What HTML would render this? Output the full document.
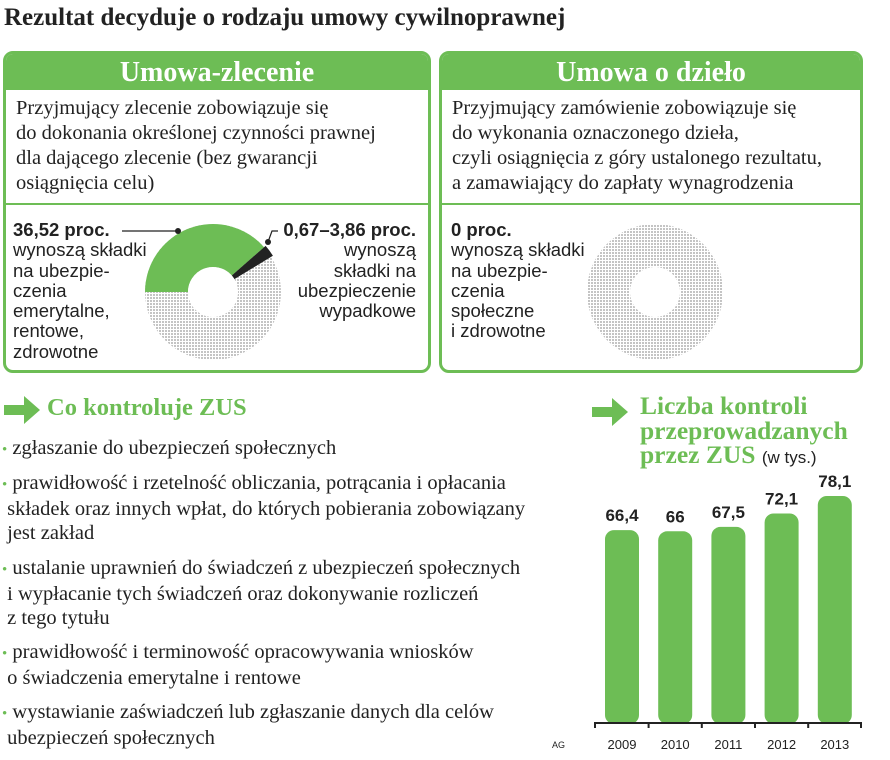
<!DOCTYPE html>
<html><head><meta charset="utf-8">
<style>
body{margin:0;width:890px;height:760px;background:#fff;position:relative;overflow:hidden;font-family:"Liberation Serif",serif;color:#222}
.abs{position:absolute}
.title{left:4px;top:4px;font-size:25px;font-weight:bold;color:#222}
.box{position:absolute;top:51px;height:322px;border:3px solid #6dbd55;border-radius:10px;box-sizing:border-box;overflow:hidden}
.head{background:#6dbd55;color:#fff;font-weight:bold;font-size:28px;text-align:center;height:36px;line-height:38px}
.desc{position:absolute;left:10px;top:42px;font-size:20.5px;line-height:25px;white-space:nowrap}
.div{position:absolute;left:0;right:0;top:149px;border-top:2px solid #6dbd55}
.sans{font-family:"Liberation Sans",sans-serif;font-size:18.5px;line-height:20.3px;white-space:nowrap}
.bul{position:absolute;left:2px;font-size:20.5px;line-height:24px;white-space:nowrap}
.bul .d{color:#6dbd55;font-size:15px}
.gh{color:#6dbd55;font-weight:bold}
</style></head><body>
<div class="abs title">Rezultat decyduje o rodzaju umowy cywilnoprawnej</div>

<div class="box" style="left:3px;width:428px">
 <div class="head">Umowa-zlecenie</div>
 <div class="desc">Przyjmujący zlecenie zobowiązuje się<br>do dokonania określonej czynności prawnej<br>dla dającego zlecenie (bez gwarancji<br>osiągnięcia celu)</div>
 <div class="div"></div>
 <div class="abs sans" style="left:7px;top:166px"><b>36,52 proc.</b><br>wynoszą składki<br>na ubezpie-<br>czenia<br>emerytalne,<br>rentowe,<br>zdrowotne</div>
 <div class="abs sans" style="right:12px;top:166px;text-align:right"><b>0,67–3,86 proc.</b><br>wynoszą<br>składki na<br>ubezpieczenie<br>wypadkowe</div>
</div>
<div class="box" style="left:439px;width:424px">
 <div class="head">Umowa o dzieło</div>
 <div class="desc">Przyjmujący zamówienie zobowiązuje się<br>do wykonania oznaczonego dzieła,<br>czyli osiągnięcia z góry ustalonego rezultatu,<br>a zamawiający do zapłaty wynagrodzenia</div>
 <div class="div"></div>
 <div class="abs sans" style="left:9px;top:166px"><b>0 proc.</b><br>wynoszą składki<br>na ubezpie-<br>czenia<br>społeczne<br>i zdrowotne</div>
</div>

<svg class="abs" style="left:0;top:0" width="890" height="760">
 <defs><pattern id="dots" width="3" height="3" patternUnits="userSpaceOnUse"><rect width="3" height="3" fill="#fff"/><rect width="2" height="2" fill="#c4c4c4"/></pattern></defs>
 <g id="donutL"></g>
 <circle cx="655" cy="292" r="68" fill="url(#dots)"/>
 <circle cx="655" cy="292" r="25" fill="#fff"/>
 <line x1="122" y1="231" x2="178" y2="231" stroke="#222" stroke-width="1.2"/>
 <circle cx="178" cy="231" r="3" fill="#222"/>
 <polyline points="268,242 272,231 278,231" fill="none" stroke="#222" stroke-width="1.2"/>
 <circle cx="268" cy="242" r="3" fill="#222"/>
</svg>

<svg class="abs" style="left:4px;top:396px" width="38" height="28"><path d="M0,9 H20 V0 L36,14 L20,28 V19 H0Z" fill="#6dbd55"/></svg>
<div class="abs gh" style="left:47px;top:394px;font-size:24.5px">Co kontroluje ZUS</div>
<div class="bul" style="top:436px"><span class="d">•</span> zgłaszanie do ubezpieczeń społecznych</div>
<div class="bul" style="top:471px"><span class="d">•</span> prawidłowość i rzetelność obliczania, potrącania i opłacania<br>&nbsp;składek oraz innych wpłat, do których pobierania zobowiązany<br>&nbsp;jest zakład</div>
<div class="bul" style="top:556px"><span class="d">•</span> ustalanie uprawnień do świadczeń z ubezpieczeń społecznych<br>&nbsp;i wypłacanie tych świadczeń oraz dokonywanie rozliczeń<br>&nbsp;z tego tytułu</div>
<div class="bul" style="top:640px"><span class="d">•</span> prawidłowość i terminowość opracowywania wniosków<br>&nbsp;o świadczenia emerytalne i rentowe</div>
<div class="bul" style="top:700px"><span class="d">•</span> wystawianie zaświadczeń lub zgłaszanie danych dla celów<br>&nbsp;ubezpieczeń społecznych</div>
<div class="abs" style="left:552px;top:740px;font-family:'Liberation Sans',sans-serif;font-size:9px">AG</div>

<svg class="abs" style="left:592px;top:398px" width="38" height="28"><path d="M0,9 H20 V0 L36,14 L20,28 V19 H0Z" fill="#6dbd55"/></svg>
<div class="abs gh" style="left:640px;top:394px;line-height:24.5px;font-size:25.5px;white-space:nowrap">Liczba kontroli<br>przeprowadzanych<br>przez ZUS <span style="color:#222;font-weight:normal;font-size:17px;font-family:'Liberation Sans',sans-serif">(w tys.)</span></div>
<svg class="abs" style="left:0;top:0" width="890" height="760" id="chart"></svg>

<script>
const years=["2009","2010","2011","2012","2013"];
const values=[66.4,66,67.5,72.1,78.1];
const valueLabels=["66,4","66","67,5","72,1","78,1"];
const donutShares=[36.52,3.86];
const NS="http://www.w3.org/2000/svg";
function mk(t,a,p){const e=document.createElementNS(NS,t);for(const k in a)e.setAttribute(k,a[k]);p.appendChild(e);return e;}
const svg=document.getElementById('chart');
const base=724,scale=2.92,x0=605,step=53.2,bw=34;
const yS=v=>base-v*scale, xS=i=>x0+i*step;
years.forEach((y,i)=>{
 const b=mk('rect',{x:xS(i),y:yS(values[i]),width:bw,height:base-yS(values[i]),rx:9,fill:'#6dbd55'},svg);
 
 
 const t=mk('text',{x:xS(i)+bw/2,y:yS(values[i])-9,'text-anchor':'middle','font-family':'Liberation Sans,sans-serif','font-weight':'bold','font-size':'17',fill:'#222'},svg);
 t.textContent=valueLabels[i];
 
 
 const l=mk('text',{x:xS(i)+bw/2,y:749,'text-anchor':'middle','font-family':'Liberation Sans,sans-serif','font-size':'13',fill:'#222'},svg);
 l.textContent=y;
 
 
});
mk('line',{x1:594,y1:723,x2:862,y2:723,stroke:'#222','stroke-width':2},svg);
for(let i=0;i<=5;i++){const x=i==0?595:i==5?861:xS(i)-(step-bw)/2;mk('line',{x1:x,y1:722,x2:x,y2:728,stroke:'#222','stroke-width':2},svg);}
const g=document.getElementById('donutL');
const cx=213,cy=292,R=68,r=25;
function arc(a0,a1,fill,Ro){
 const P=(a,rr)=>(cx+rr*Math.cos(a*Math.PI/180)).toFixed(1)+','+(cy-rr*Math.sin(a*Math.PI/180)).toFixed(1);
 const large=Math.abs(a0-a1)>180?1:0;
 return mk('path',{d:`M${P(a0,Ro)} A${Ro},${Ro} 0 ${large} 1 ${P(a1,Ro)} L${P(a1,r)} A${r},${r} 0 ${large} 0 ${P(a0,r)}Z`,fill:fill},g);}
const bg=mk('circle',{cx:cx,cy:cy,r:R,fill:'url(#dots)'},g);


const a1=180-donutShares[0]/100*380;
const s1=arc(180,a1,'#6dbd55',R);


const a2=a1-donutShares[1]*2.6;
const s2=arc(a1,a2,'#222',R+2);


mk('circle',{cx:cx,cy:cy,r:r,fill:'#fff'},g);
</script>
</body></html>
